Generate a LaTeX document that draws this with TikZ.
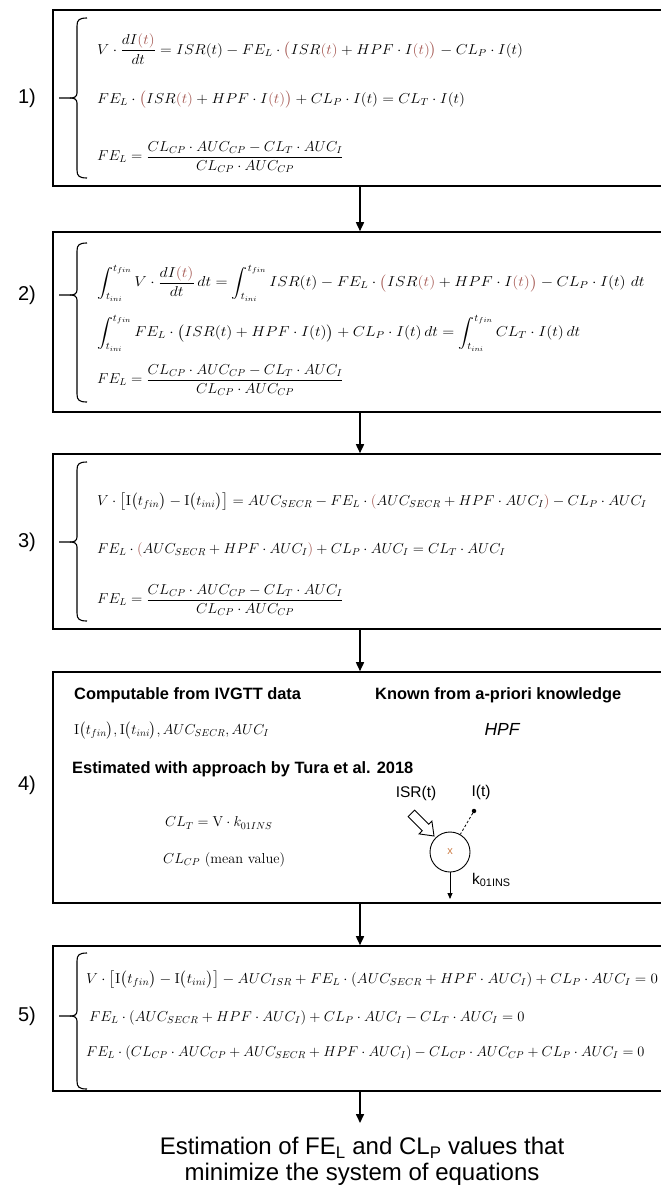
\documentclass[tikz,border=0pt]{standalone}
\usepackage{amsmath}
\usepackage{graphicx}
\usepackage{fontspec}
\newfontfamily\arial{Liberation Sans}
\usetikzlibrary{arrows.meta}
\definecolor{eqred}{RGB}{165,88,82}
\definecolor{xcol}{RGB}{205,125,70}
\newcommand{\rc}[1]{\textcolor{eqred}{#1}}
\newcommand{\xs}[2]{\scalebox{#1}[1]{#2}}
\newcommand{\FEfrac}{FE_L = \dfrac{CL_{CP}\cdot AUC_{CP} - CL_T\cdot AUC_I}{CL_{CP}\cdot AUC_{CP}}}
\newcommand{\It}{\int_{t_{ini}}^{t_{fin}}}
\newcommand{\sysbrace}[3]{%
  \draw[brc] (87,#1) .. controls (79,#1) and (77,#1+2) .. (77,#1+8) -- (77,#2-5)
     .. controls (77,#2-1) and (74,#2) .. (70,#2) -- (59,#2);
  \draw[brc] (70,#2) .. controls (74,#2) and (77,#2+1) .. (77,#2+5) -- (77,#3-8)
     .. controls (77,#3-2) and (79,#3) .. (87,#3);}
\begin{document}
\begin{tikzpicture}[x=1pt,y=-1pt,
  box/.style={draw, line width=1.6pt, minimum width=614pt, inner sep=0pt},
  eq/.style={anchor=west, inner sep=0pt, font=\fontsize{14.4}{18}\selectfont},
  lab/.style={font=\arial\fontsize{20}{24}\selectfont, inner sep=0pt},
  flow/.style={line width=1.6pt, -{Triangle[length=9pt,width=8pt]}},
  brc/.style={line width=1.1pt},
  head/.style={anchor=west, inner sep=0pt, font=\arial\bfseries\fontsize{16.4}{19}\selectfont},
  small/.style={inner sep=0pt, font=\arial\fontsize{15.5}{18}\selectfont}]
\useasboundingbox (0,0) rectangle (661,1186);
\clip (0,0) rectangle (661,1186);
\fill[white] (0,0) rectangle (661,1186);

% boxes
\node[box, minimum height=176pt] (b1) at (360,98) {};
\node[box, minimum height=180pt] (b2) at (360,322) {};
\node[box, minimum height=175pt] (b3) at (360,541.5) {};
\node[box, minimum height=231pt] (b4) at (360,787.5) {};
\node[box, minimum height=145pt] (b5) at (360,1018.5) {};

% labels
\node[lab] (l1) at (27,98) {1)};
\node[lab] (l2) at (27,295) {2)};
\node[lab] (l3) at (27,542) {3)};
\node[lab] (l4) at (27,785) {4)};
\node[lab] (l5) at (27,1016) {5)};

% braces
\sysbrace{18}{98}{178}
\sysbrace{243}{295}{402}
\sysbrace{462}{542}{621}
\sysbrace{953}{1016}{1089}

% box 1
\node[eq] (e11) at (97,49) {\xs{1.07}{$V\cdot\dfrac{dI\rc{(t)}}{dt} = ISR(t) - FE_L\cdot\rc{\big(}ISR\rc{(t)} + HPF\cdot I\rc{(t)}\rc{\big)} - CL_P\cdot I(t)$}};
\node[eq] (e12) at (97,100) {\xs{1.07}{$FE_L\cdot\rc{\big(}ISR\rc{(t)} + HPF\cdot I\rc{(t)}\rc{\big)} + CL_P\cdot I(t) = CL_T\cdot I(t)$}};
\node[eq] (e13) at (97,157) {\xs{1.03}{$\FEfrac$}};

% box 2
\node[eq] (e21) at (97,283) {\xs{1.1}{$\displaystyle\It V\cdot\dfrac{dI\rc{(t)}}{dt}\,dt = \It ISR(t) - FE_L\cdot\rc{\big(}ISR\rc{(t)} + HPF\cdot I\rc{(t)}\rc{\big)} - CL_P\cdot I(t)\ dt$}};
\node[eq] (e22) at (97,333) {\xs{1.095}{$\displaystyle\It FE_L\cdot\big(ISR(t) + HPF\cdot I(t)\big) + CL_P\cdot I(t)\,dt = \It CL_T\cdot I(t)\,dt$}};
\node[eq] (e23) at (97,380) {\xs{1.03}{$\FEfrac$}};

% box 3
\node[eq] (e31) at (97,502) {\xs{1.03}{$V\cdot\big[\mathrm{I}\big(t_{fin}\big) - \mathrm{I}\big(t_{ini}\big)\big] = AUC_{SECR} - FE_L\cdot\rc{(}AUC_{SECR} + HPF\cdot AUC_I\rc{)} - CL_P\cdot AUC_I$}};
\node[eq] (e32) at (97,550) {\xs{1.015}{$FE_L\cdot\rc{(}AUC_{SECR} + HPF\cdot AUC_I\rc{)} + CL_P\cdot AUC_I = CL_T\cdot AUC_I$}};
\node[eq] (e33) at (97,600) {\xs{1.03}{$\FEfrac$}};

% box 4
\node[head] (h1) at (74,695) {Computable from IVGTT data};
\node[eq] (c1) at (74,731) {$\mathrm{I}\big(t_{fin}\big), \mathrm{I}\big(t_{ini}\big), AUC_{SECR}, AUC_I$};
\node[head] (h2) at (375,695) {Known from a-priori knowledge};
\node[inner sep=0pt, font=\arial\itshape\fontsize{17.5}{20}\selectfont] (hpf) at (502,729) {HPF};
\node[head] (h3) at (72,769) {Estimated with approach by Tura et al. 2018};
\node[eq] (c2) at (165,823) {$CL_T = \mathrm{V}\cdot k_{01INS}$};
\node[eq] (c3) at (163,860) {$CL_{CP}$ (mean value)};

% compartment sketch
\node[draw, circle, minimum size=40pt, line width=0.9pt, inner sep=0pt] (cmp) at (450,852) {\arial\fontsize{11}{12}\selectfont\textcolor{xcol}{x}};
\node[small] (isr) at (416,793) {ISR(t)};
\node[small] (it) at (481,792) {I(t)};
\node[circle, fill, inner sep=0pt, minimum size=4.5pt] (dot) at (474,811) {};
\draw[dashed, line width=0.8pt, dash pattern=on 2.5pt off 2pt] (dot) -- (cmp);
\draw[line width=0.9pt, fill=white] (434,836) -- (431.9,821.1) -- (428.7,824.3) -- (414.6,810.2)
   -- (408.2,816.6) -- (422.3,830.7) -- (419.1,833.9) -- cycle;
\coordinate (kout) at (450,899);
\draw[line width=0.8pt, -{Triangle[length=6pt,width=5pt]}] (cmp.south) -- (kout);
\node[small, anchor=west] (klab) at (472,880) {k\textsubscript{01INS}};

% box 5
\node[eq] (e51) at (86,980) {\xs{1.045}{$V\cdot\big[\mathrm{I}\big(t_{fin}\big) - \mathrm{I}\big(t_{ini}\big)\big] - AUC_{ISR} + FE_L\cdot(AUC_{SECR} + HPF\cdot AUC_I) + CL_P\cdot AUC_I = 0$}};
\node[eq] (e52) at (89,1018) {\xs{1.02}{$FE_L\cdot(AUC_{SECR} + HPF\cdot AUC_I) + CL_P\cdot AUC_I - CL_T\cdot AUC_I = 0$}};
\node[eq] (e53) at (86,1053) {$FE_L\cdot(CL_{CP}\cdot AUC_{CP} + AUC_{SECR} + HPF\cdot AUC_I) - CL_{CP}\cdot AUC_{CP} + CL_P\cdot AUC_I = 0$};

% result
\node[inner sep=0pt, align=center, anchor=north, font=\arial\fontsize{24}{26}\selectfont] (res) at (362,1137)
  {Estimation of FE\textsubscript{L} and CL\textsubscript{P} values that\\minimize the system of equations};

% flow arrows
\draw[flow] (b1.south) -- (b2.north);
\draw[flow] (b2.south) -- (b3.north);
\draw[flow] (b3.south) -- (b4.north);
\draw[flow] (b4.south) -- (b5.north);
\coordinate (resin) at (360,1123);
\draw[flow] (b5.south) -- (resin);
\end{tikzpicture}
\end{document}
